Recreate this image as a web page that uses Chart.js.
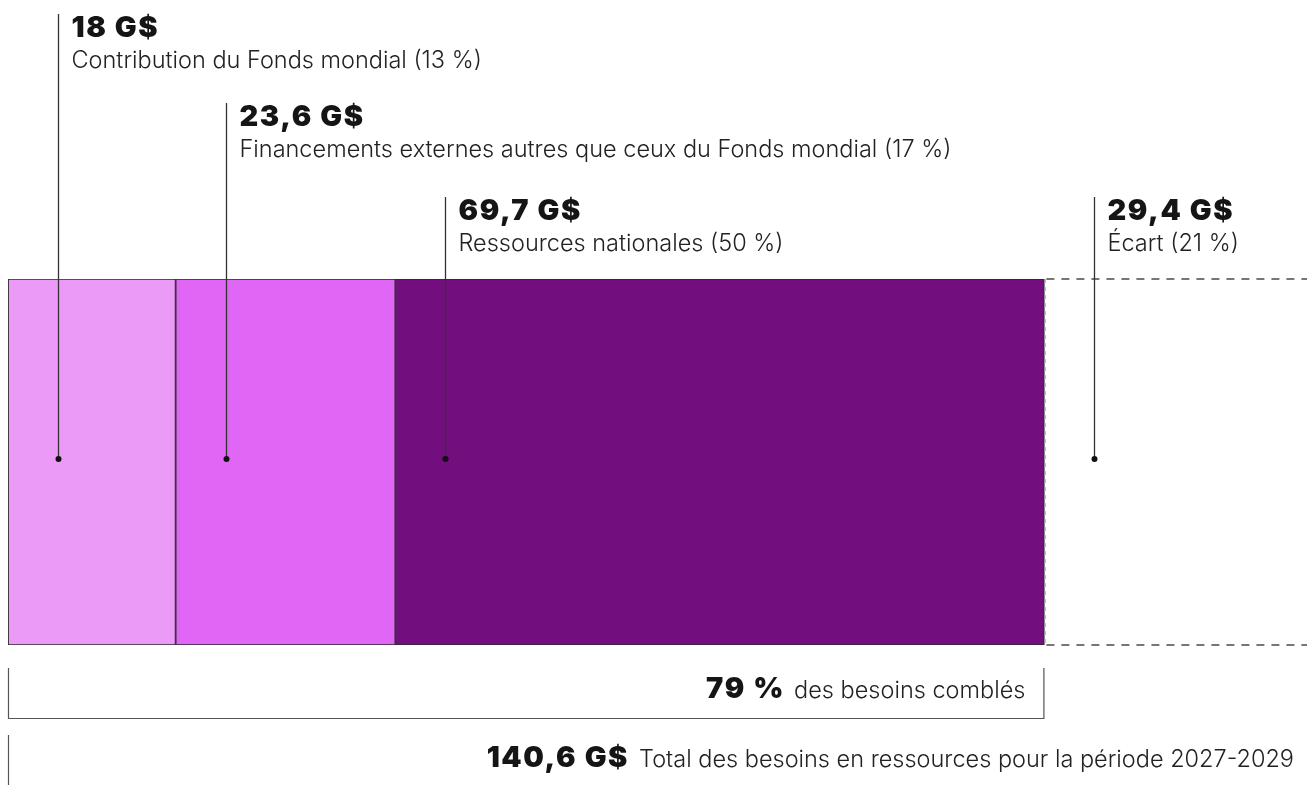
<!DOCTYPE html>
<html>
<head>
<meta charset="utf-8">
<script src="https://cdn.jsdelivr.net/npm/chart.js@4"></script>
<style>
  html, body { margin: 0; padding: 0; background: #fff; }
  #wrap { width: 1307px; height: 785px; position: relative; }
</style>
</head>
<body>
<div id="wrap"><canvas id="besoins"></canvas></div>
<script>
// données (en milliards de $)
const categories = ["Besoins 2027-2029"];
const segLabels = ["Contribution du Fonds mondial (13 %)", "Financements externes autres que ceux du Fonds mondial (17 %)", "Ressources nationales (50 %)", "Écart (21 %)"];
const segValues = [18, 23.6, 69.7, 29.4];
const segTitles = ["18 G$", "23,6 G$", "69,7 G$", "29,4 G$"];
const segColors = ["#ec9af8", "#e066f6", "#730e7e", "rgba(0,0,0,0)"];
const labelTops = [14, 103, 197, 197];
const couvert = "79 %";
const total = "140,6 G$";

const boldFont = "900 29px Inter";
const regFont = "300 23.5px Inter";
const boldSpacing = "1.6px";

function boldText(ctx, txt, x, y, align) {
  ctx.font = boldFont;
  ctx.fillStyle = "#151515";
  ctx.letterSpacing = boldSpacing;
  ctx.textAlign = align;
  ctx.fillText(txt, x, y);
  const w = ctx.measureText(txt).width;
  ctx.letterSpacing = "0px";
  return w;
}

// dessine les étiquettes, traits et accolades
const annotations = {
  id: "annotations",
  afterDatasetsDraw(chart) {
    const ctx = chart.ctx;
    const bars = chart.data.datasets.map((d, i) => chart.getDatasetMeta(i).data[0]);
    const top = chart.chartArea.top, bottom = chart.chartArea.bottom;
    ctx.save();

    // écart : contour en pointillés
    const gap = bars[3];
    ctx.strokeStyle = "#4a4a4a";
    ctx.lineWidth = 1.3;
    ctx.setLineDash([8, 7]);
    ctx.beginPath();
    ctx.moveTo(gap.base + 2, top); ctx.lineTo(chart.width, top);
    ctx.moveTo(gap.base + 2, bottom); ctx.lineTo(chart.width, bottom);
    ctx.stroke();
    ctx.strokeStyle = "#bbb";
    ctx.setLineDash([4, 4]);
    ctx.beginPath();
    ctx.moveTo(gap.base + 1, top); ctx.lineTo(gap.base + 1, bottom);
    ctx.stroke();
    ctx.setLineDash([]);

    // traits de repère et étiquettes
    const midY = (top + bottom) / 2 - 3;
    bars.forEach((b, i) => {
      const x = Math.round(b.base) + 50.5;
      ctx.strokeStyle = "#333";
      ctx.lineWidth = 1.3;
      ctx.beginPath();
      ctx.moveTo(x, labelTops[i]);
      ctx.lineTo(x, midY);
      ctx.stroke();
      ctx.fillStyle = "#111";
      ctx.beginPath();
      ctx.arc(x, midY, 3, 0, Math.PI * 2);
      ctx.fill();
      ctx.textBaseline = "alphabetic";
      boldText(ctx, segTitles[i], x + 13, labelTops[i] + 23, "left");
      ctx.font = regFont;
      ctx.fillStyle = "#222";
      ctx.textAlign = "left";
      ctx.fillText(segLabels[i], x + 13, labelTops[i] + 54);
    });

    // accolade « besoins comblés »
    const left = chart.chartArea.left;
    const endCovered = gap.base;
    ctx.strokeStyle = "#555";
    ctx.lineWidth = 1.2;
    ctx.beginPath();
    ctx.moveTo(left + 0.5, 668); ctx.lineTo(left + 0.5, 718.5);
    ctx.lineTo(endCovered - 0.5, 718.5); ctx.lineTo(endCovered - 0.5, 668);
    ctx.stroke();

    ctx.textAlign = "right";
    ctx.font = regFont;
    ctx.fillStyle = "#222";
    const t1 = "des besoins comblés";
    ctx.fillText(t1, endCovered - 19, 698);
    const w1 = ctx.measureText(t1).width;
    boldText(ctx, couvert, endCovered - 19 - w1 - 9, 698, "right");

    // total
    ctx.strokeStyle = "#555";
    ctx.beginPath();
    ctx.moveTo(left + 0.5, 735); ctx.lineTo(left + 0.5, 785);
    ctx.stroke();
    ctx.font = regFont;
    ctx.fillStyle = "#222";
    ctx.textAlign = "right";
    const t2 = "Total des besoins en ressources pour la période 2027-2029";
    ctx.fillText(t2, 1294, 767);
    const w2 = ctx.measureText(t2).width;
    boldText(ctx, total, 1294 - w2 - 10, 767, "right");

    ctx.restore();
  }
};

const ctxBesoins = document.getElementById("besoins").getContext("2d");

new Chart(ctxBesoins, {
  type: "bar",
  data: {
    labels: categories,
    datasets: segValues.map((v, i) => ({
      label: segLabels[i],
      data: [v],
      backgroundColor: segColors[i],
      borderColor: i < 3 ? "#2b2b2b" : "rgba(0,0,0,0)",
      borderWidth: i < 3 ? 1.2 : 0,
      borderSkipped: false,
      barPercentage: 1,
      categoryPercentage: 1,
    })),
  },
  options: {
    indexAxis: "y",
    responsive: true,
    maintainAspectRatio: false,
    animation: false,
    layout: { padding: { left: 8, right: 0, top: 279, bottom: 140 } },
    plugins: { legend: { display: false }, tooltip: { enabled: false } },
    scales: {
      x: { stacked: true, display: false, min: 0, max: 139.5 },
      y: { stacked: true, display: false },
    },
  },
  plugins: [annotations],
});
</script>
</body>
</html>
